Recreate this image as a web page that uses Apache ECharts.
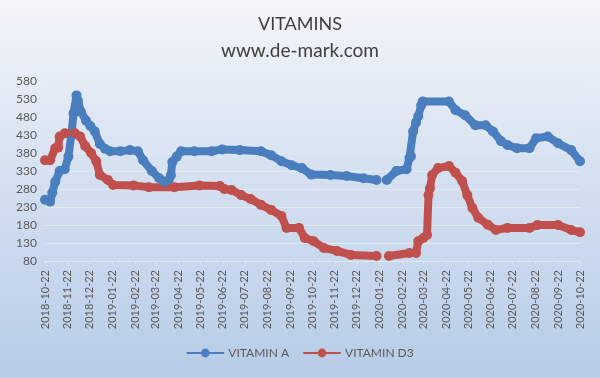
<!DOCTYPE html>
<html>
<head>
<meta charset="utf-8">
<script src="https://cdn.jsdelivr.net/npm/echarts@6/dist/echarts.min.js"></script>
<style>
  html, body { margin: 0; padding: 0; }
  #chart { width: 600px; height: 378px; }
</style>
</head>
<body>
<div id="chart"></div>
<script>
// tick labels on the x axis (22nd of every month)
var tickDates = ['2018-10-22', '2018-11-22', '2018-12-22', '2019-01-22', '2019-02-22', '2019-03-22',
  '2019-04-22', '2019-05-22', '2019-06-22', '2019-07-22', '2019-08-22', '2019-09-22', '2019-10-22',
  '2019-11-22', '2019-12-22', '2020-01-22', '2020-02-22', '2020-03-22', '2020-04-22', '2020-05-22',
  '2020-06-22', '2020-07-22', '2020-08-22', '2020-09-22', '2020-10-22']

// VITAMIN A (null = no data)
var datesA = ['2018-10-22', '2018-10-29', '2018-11-01', '2018-11-05', '2018-11-11', '2018-11-18', '2018-11-23',
  '2018-11-27', '2018-11-30', '2018-12-04', '2018-12-06', '2018-12-10', '2018-12-17', '2018-12-23',
  '2018-12-29', '2019-01-05', '2019-01-12', '2019-01-19', '2019-02-02', '2019-02-15', '2019-02-26',
  '2019-03-05', '2019-03-17', '2019-03-27', '2019-04-03', '2019-04-09', '2019-04-12', '2019-04-14',
  '2019-04-20', '2019-04-26', '2019-05-14', '2019-06-07', '2019-06-21', '2019-07-15', '2019-08-13',
  '2019-08-27', '2019-09-10', '2019-09-24', '2019-10-08', '2019-10-21', '2019-11-16', '2019-12-08',
  '2019-12-31', '2020-01-18', '2020-01-25', '2020-02-01', '2020-02-14', '2020-02-28', '2020-03-03',
  '2020-03-05', '2020-03-08', '2020-03-12', '2020-03-15', '2020-03-19', '2020-03-21', '2020-04-26',
  '2020-05-05', '2020-05-18', '2020-06-01', '2020-06-15', '2020-06-25', '2020-07-06', '2020-07-15',
  '2020-07-28', '2020-08-14', '2020-08-23', '2020-09-08', '2020-09-22', '2020-10-10', '2020-10-22']
var vitaminA = [250, 245, 270, 300, 330, 335, 370,
  430, 490, 540, 525, 495, 470, 455,
  440, 405, 392, 385, 385, 388, 385,
  360, 330, 310, 300, 305, 318, 355,
  370, 385, 385, 385, 390, 388, 385,
  374, 357, 346, 338, 320, 319, 316,
  310, 305, null, 305, 330, 335, 366,
  371, 440, 465, 482, 512, 523, 523,
  499, 485, 457, 457, 440, 413, 402,
  393, 393, 421, 426, 407, 388, 357]

// VITAMIN D3
var datesD3 = ['2018-10-22', '2018-10-29', '2018-11-05', '2018-11-09', '2018-11-11', '2018-11-18', '2018-12-02',
  '2018-12-09', '2018-12-16', '2018-12-24', '2018-12-31', '2019-01-05', '2019-01-16', '2019-01-23',
  '2019-02-20', '2019-03-13', '2019-04-17', '2019-05-21', '2019-06-18', '2019-06-24', '2019-07-04',
  '2019-07-17', '2019-07-30', '2019-08-13', '2019-08-27', '2019-09-10', '2019-09-17', '2019-10-04',
  '2019-10-12', '2019-10-24', '2019-11-07', '2019-11-25', '2019-12-14', '2020-01-18', '2020-01-25',
  '2020-02-04', '2020-03-03', '2020-03-12', '2020-03-15', '2020-03-22', '2020-03-27', '2020-03-29',
  '2020-03-31', '2020-04-03', '2020-04-11', '2020-04-26', '2020-05-05', '2020-05-14', '2020-05-21',
  '2020-05-28', '2020-06-05', '2020-06-18', '2020-06-29', '2020-07-15', '2020-08-14', '2020-08-25',
  '2020-09-22', '2020-10-10', '2020-10-22']
var vitaminD3 = [360, 360, 393, 395, 426, 435, 435,
  426, 399, 380, 357, 319, 305, 291,
  290, 285, 285, 290, 288, 280, 277,
  263, 252, 236, 222, 205, 172, 172,
  144, 135, 116, 108, 97, 94, null,
  94, 102, 102, 135, 144, 152, 263,
  282, 319, 338, 344, 325, 302, 263,
  227, 200, 181, 166, 172, 172, 180,
  180, 166, 160]

function ts(s) {
  var p = s.split('-')
  return Date.UTC(+p[0], +p[1] - 1, +p[2])
}
function zip(dates, vals) {
  return dates.map(function (d, i) { return [ts(d), vals[i]] })
}
var tickTs = tickDates.map(ts)

var chart = echarts.init(document.getElementById('chart'))
var option = {
  backgroundColor: {
    type: 'linear', x: 0, y: 0, x2: 0, y2: 1,
    colorStops: [
      { offset: 0, color: '#f3f6fa' },
      { offset: 0.5, color: '#d3dff0' },
      { offset: 1, color: '#b7cce7' }
    ]
  },
  title: [
    { text: 'VITAMINS', left: 'center', top: 10,
      textStyle: { fontFamily: 'Lato', fontSize: 18, fontWeight: 'normal', color: '#404040' } },
    { text: 'www.de-mark.com', left: 'center', top: 36,
      textStyle: { fontFamily: 'Lato', fontSize: 19, fontWeight: 'normal', color: '#404040' } }
  ],
  grid: { left: 45, right: 20, top: 81, bottom: 117 },
  legend: {
    bottom: 14, left: 'center', itemWidth: 36, itemHeight: 11, itemGap: 14,
    textStyle: { fontFamily: 'Lato', fontSize: 12, color: '#595959' },
    data: ['VITAMIN A', 'VITAMIN D3']
  },
  xAxis: {
    type: 'value',
    min: tickTs[0],
    max: tickTs[tickTs.length - 1],
    axisLine: { lineStyle: { color: '#e2e8f0', width: 1 } },
    axisTick: { show: true, customValues: tickTs, length: 3, lineStyle: { color: '#e2e8f0' } },
    axisLabel: {
      customValues: tickTs, rotate: 90, margin: 9, hideOverlap: false,
      fontFamily: 'Lato', fontSize: 11, color: '#595959',
      formatter: function (v) {
        var i = tickTs.indexOf(v)
        return i >= 0 ? tickDates[i] : ''
      }
    },
    splitLine: { show: false }
  },
  yAxis: {
    type: 'value', min: 80, max: 580, interval: 50,
    axisLine: { show: false }, axisTick: { show: false },
    axisLabel: { fontFamily: 'Lato', fontSize: 12, color: '#595959', margin: 8 },
    splitLine: { lineStyle: { color: '#e3e9f1', width: 1 } }
  },
  series: [
    {
      name: 'VITAMIN A', type: 'line', data: zip(datesA, vitaminA),
      color: '#4a7ebf', symbol: 'circle', symbolSize: 10, showAllSymbol: true,
      lineStyle: { width: 8, cap: 'round', join: 'round' }, connectNulls: false
    },
    {
      name: 'VITAMIN D3', type: 'line', data: zip(datesD3, vitaminD3),
      color: '#c0504d', symbol: 'circle', symbolSize: 10, showAllSymbol: true,
      lineStyle: { width: 8, cap: 'round', join: 'round' }, connectNulls: false
    }
  ]
}
chart.setOption(option)
</script>
</body>
</html>
